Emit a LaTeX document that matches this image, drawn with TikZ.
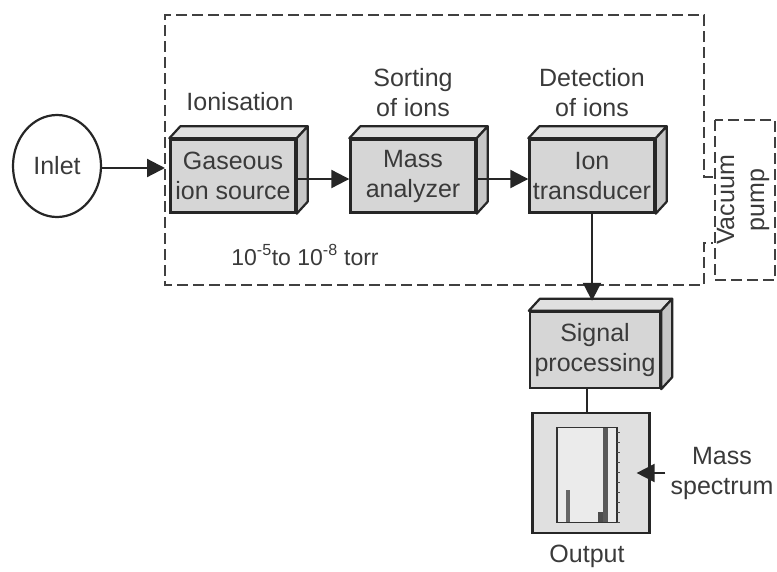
\documentclass[tikz,border=0pt]{standalone}
\usepackage{fontspec}
\setmainfont{Liberation Sans}
\usetikzlibrary{arrows.meta,calc,shapes.geometric}
\definecolor{txt}{HTML}{3A3A3A}
\definecolor{boxfill}{HTML}{D6D6D6}
\definecolor{sidefill}{HTML}{C6C6C6}
\definecolor{topfill}{HTML}{E0E0E0}
\tikzset{
  lbl/.style={text=txt,font=\fontsize{25}{30}\selectfont,inner sep=0pt,align=center},
  front/.style={draw=black!85,line width=2.4pt,fill=boxfill,minimum width=125pt,minimum height=73pt,inner sep=0pt,text=txt,font=\fontsize{25}{30}\selectfont,align=center},
  face/.style={draw=black!85,line width=2.2pt,line join=round},
  conn/.style={draw=black!85,line width=2.2pt,-{Triangle[length=18pt,width=18pt]}},
  plain/.style={draw=black!85,line width=2.2pt},
  dsh/.style={draw=black!75,line width=2.6pt,dash pattern=on 11pt off 5pt}
}
\newcommand{\boxdepth}[1]{%
  \filldraw[face,fill=topfill] (#1.north west) -- ++(11,-12) -- ($(#1.north east)+(11,-12)$) -- (#1.north east) -- cycle;
  \filldraw[face,fill=sidefill] (#1.north east) -- ++(11,-12) -- ($(#1.south east)+(11,-12)$) -- (#1.south east) -- cycle;
}
\begin{document}
\begin{tikzpicture}[x=1pt,y=-1pt]
\useasboundingbox (0,0) rectangle (777,571);
% vacuum chamber outline
\draw[dsh] (713,177) -- (704,177) -- (704,15) -- (165,15) -- (165,285) -- (704,285) -- (704,243) -- (713,243);
\draw[dsh] (715,120) rectangle (775,280);
\node[lbl,rotate=90] (vac) at (743,200) {Vacuum\\pump};
% inlet
\node[draw=black!85,line width=2.2pt,ellipse,minimum width=88pt,minimum height=102pt,inner sep=0pt,text=txt,font=\fontsize{25}{30}\selectfont] (inlet) at (57,166) {Inlet};
\coordinate (wall) at (165,168);
% boxes
\node[front] (src) at (233,176) {Gaseous\\ion source};
\node[front] (mass) at (413,176) {Mass\\analyzer};
\node[front] (trans) at (592,176) {Ion\\transducer};
\node[front,minimum width=130pt,minimum height=76pt] (sig) at (595,350) {Signal\\processing};
\boxdepth{src}
\boxdepth{mass}
\boxdepth{trans}
\boxdepth{sig}
% labels
\node[lbl] (ion) at (240,102) {Ionisation};
\node[lbl] (sort) at (413,93) {Sorting\\of ions};
\node[lbl] (det) at (592,93) {Detection\\of ions};
\node[lbl,font=\fontsize{23}{28}\selectfont] (press) at (305,255) {10\textsuperscript{-5}to 10\textsuperscript{-8} torr};
% connectors
\draw[conn] (inlet.east |- wall) -- (wall);
\draw[conn] (src.east |- 0,179) -- (mass.west |- 0,179);
\draw[conn] (mass.east |- 0,179) -- (trans.west |- 0,179);
\coordinate (sigtop) at ($(sig.north)+(0,-10)$);
\draw[conn] (trans.south) -- (trans.south |- sigtop);
% output
\node[draw=black!85,line width=2.2pt,fill=topfill,minimum width=117pt,minimum height=120pt,inner sep=0pt] (out) at (591,473) {};
\coordinate (sigb) at ([xshift=-8pt]sig.south);
\draw[plain] (sigb) -- (sigb |- out.north);
\node[draw=black!80,line width=1.4pt,fill=white!92!black,minimum width=60pt,minimum height=95pt,inner sep=0pt] (plot) at (587,475) {};
\draw[black!80,line width=1pt] (617,428) -- (617,522);
\foreach \yy in {432,442,...,522} \draw[black!70,line width=0.6pt] (617,\yy) -- (620,\yy);
\fill[black!65] (603,428) rectangle (608,522);
\fill[black!60] (566,490) rectangle (570,522);
\fill[black!70] (598,512) rectangle (603,522);
\node[lbl] (outl) at (587,556) {Output};
\node[lbl] (ms) at (722,473) {Mass\\spectrum};
\coordinate (msa) at ([xshift=-5pt]ms.west);
\draw[conn] (msa) -- ([xshift=-14pt]msa -| out.east);
\end{tikzpicture}
\end{document}
